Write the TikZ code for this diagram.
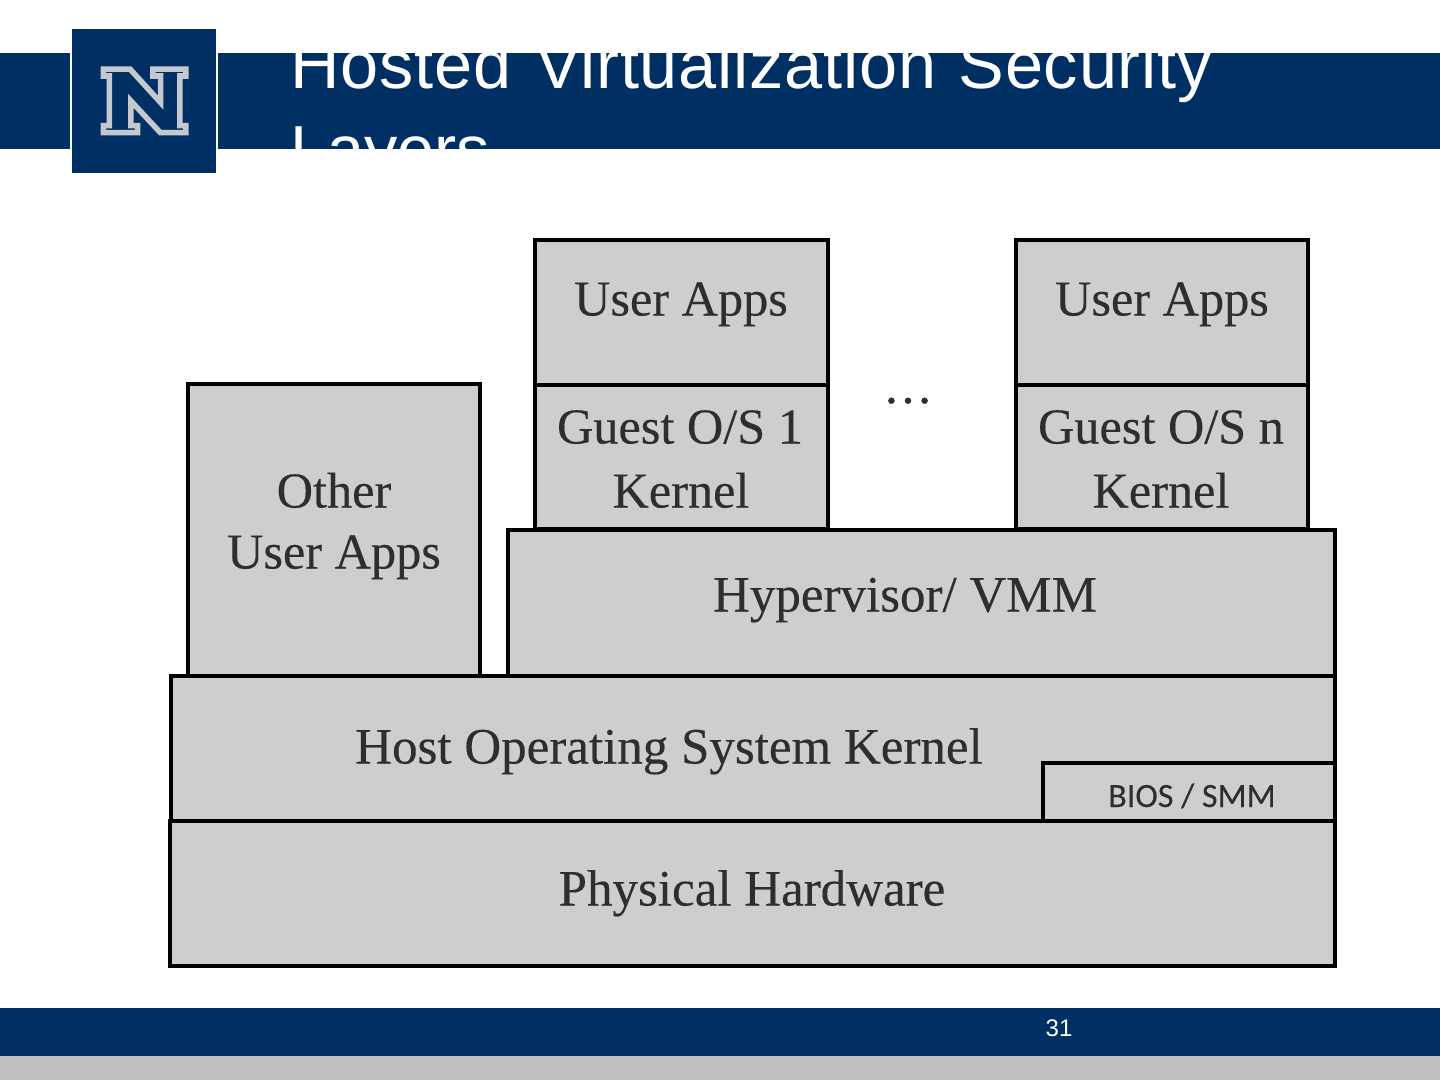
\documentclass[tikz,border=0pt]{standalone}
\usepackage{fontspec}
\setmainfont{Liberation Serif}[FakeBold=0.25]
\newfontfamily\titlefont{Liberation Sans}
\newfontfamily\titlespaced{Liberation Sans}[LetterSpace=1.2]
\newfontfamily\smallfont{Carlito}[FakeBold=0.2]
\newfontfamily\dotsfont{Liberation Serif}[FakeBold=0.8]
\definecolor{navy}{HTML}{003063}
\definecolor{footgray}{HTML}{BFBFBF}
\definecolor{boxgray}{HTML}{CDCECD}
\definecolor{inkgray}{HTML}{2E2E2E}
\definecolor{logogray}{HTML}{C4C8CF}
\tikzset{
  layerbox/.style={draw=black,line width=4.5pt,fill=boxgray,rectangle,inner sep=0pt,outer sep=0pt,anchor=north west},
  label/.style={text=inkgray,font=\fontsize{50.3}{50.3}\selectfont,inner sep=0pt,anchor=base},
  longlabel/.style={label,font=\fontsize{51}{51}\selectfont},
  band/.style={fill=navy,draw=none}
}
\newcommand{\layer}[5]{\node[layerbox,minimum width=#4pt-#2pt,minimum height=#5pt-#3pt] (#1) at (#2,#3) {};}
\begin{document}
\begin{tikzpicture}[x=1pt,y=-1pt]
\useasboundingbox (0,0) rectangle (1440,1080);
\fill[white] (0,0) rectangle (1440,1080);
% header
\fill[band] (0,53) rectangle (70,149);
\fill[band] (218,53) rectangle (1440,149);
\begin{scope}
\clip (218,53) rectangle (1440,149);
\node[text=white,font=\titlespaced\fontsize{68.5}{68.5}\selectfont,inner sep=0pt,anchor=base west] (title1) at (290,88) {Hosted\kern4pt\ Virtualization\kern2pt\ Security};
\node[text=white,font=\titlefont\fontsize{66.5}{66.5}\selectfont,inner sep=0pt,anchor=base west] (title2) at (290,172) {Layers};
\end{scope}
\fill[band] (72,29) rectangle (216,173);
\begin{scope}[shift={(60,20)},x=0.3333pt,y=-0.3333pt]
\draw[logogray,line width=5.5pt,miter limit=4,fill=navy]
 (130,147)--(210,147)--(302,248)--(302,168)--(279,168)--(279,147)--(378,147)--(378,168)--(360,168)--(360,317)--(378,317)--(378,338)--(301,338)--(213,243)--(213,317)--(233,317)--(233,338)--(130,338)--(130,317)--(148,317)--(148,168)--(130,168)--cycle;
\end{scope}
% layers
\layer{other}{188}{384}{480}{676}
\layer{apps1}{535}{240}{828}{385}
\layer{guest1}{535}{385}{828}{529}
\layer{appsn}{1016}{240}{1308}{385}
\layer{guestn}{1016}{385}{1308}{529}
\layer{hyper}{508}{530}{1335}{676}
\layer{host}{171}{676}{1335}{821}
\layer{bios}{1043}{763}{1335}{821}
\layer{phys}{170}{821}{1335}{966}
% labels
\node[label] (tApps1) at (681,315.5) {User Apps};
\node[label] (tAppsn) at (1162,315.5) {User Apps};
\node[label] (tGuest1) at (680,443.5) {Guest O/S 1};
\node[label] (tKern1) at (681,507.5) {Kernel};
\node[label] (tGuestn) at (1161,443.5) {Guest O/S n};
\node[label] (tKernn) at (1161,507.5) {Kernel};
\node[label] (tOther) at (334,507.5) {Other};
\node[label] (tOtherApps) at (334,568.5) {User Apps};
\node[longlabel] (tHyper) at (905,611.5) {Hypervisor/ VMM};
\node[longlabel] (tHost) at (669,763.5) {Host Operating System Kernel};
\node[longlabel] (tPhys) at (752,905.5) {Physical Hardware};
\node[text=inkgray,font=\smallfont\fontsize{34}{34}\selectfont,inner sep=0pt,anchor=base] (tBios) at (1192,807) {BIOS / SMM};
\node[text=inkgray,font=\dotsfont\fontsize{50.3}{50.3}\selectfont,inner sep=0pt,anchor=base] (tDots) at (908,403) {.\kern4pt.\kern4pt.};
% footer
\fill[band] (0,1008) rectangle (1440,1056);
\fill[footgray] (0,1056) rectangle (1440,1080);
\node[text=white,font=\titlefont\fontsize{24}{24}\selectfont,inner sep=0pt,anchor=base] (page) at (1059,1036) {31};
\end{tikzpicture}
\end{document}
